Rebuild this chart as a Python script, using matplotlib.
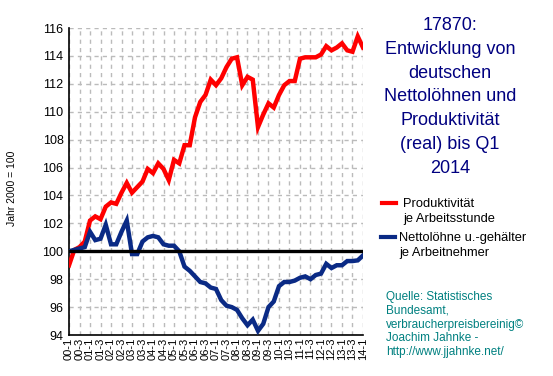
import matplotlib.pyplot as plt

plt.rcParams['font.family'] = ['Liberation Sans', 'DejaVu Sans']

# quarters 2000 Q1 .. 2014 Q1
quarters = [f"{y:02d}-{q}" for y in range(0, 15) for q in (1, 2, 3, 4)][:57]

produktivitaet = [99.0, 100.1, 100.3, 100.7, 102.2, 102.5, 102.3, 103.2, 103.5, 103.4,
                  104.2, 104.9, 104.2, 104.6, 105.0, 105.9, 105.6, 106.3, 105.9, 105.1,
                  106.55, 106.3, 107.6, 107.6, 109.6, 110.7, 111.2, 112.3, 111.9, 112.4,
                  113.2, 113.8, 113.9, 111.9, 112.5, 112.3, 108.9, 109.8, 110.6, 110.3,
                  111.2, 111.9, 112.2, 112.2, 113.8, 113.9, 113.9, 113.9, 114.1, 114.7,
                  114.4, 114.6, 114.9, 114.4, 114.3, 115.4, 114.6]

nettoloehne = [100.0, 100.1, 100.2, 100.3, 101.4, 100.8, 100.9, 101.9, 100.5, 100.5,
               101.4, 102.2, 99.8, 99.8, 100.7, 101.0, 101.1, 101.0, 100.5, 100.4,
               100.4, 100.0, 98.9, 98.6, 98.2, 97.8, 97.7, 97.4, 97.3, 96.5,
               96.1, 96.0, 95.8, 95.2, 94.7, 95.1, 94.3, 94.8, 96.0, 96.4,
               97.5, 97.8, 97.8, 97.9, 98.1, 98.2, 98.0, 98.3, 98.4, 99.1,
               98.8, 99.0, 99.0, 99.3, 99.3, 99.35, 99.7]

title = "17870:\nEntwicklung von\ndeutschen\nNettolöhnen und\nProduktivität\n(real) bis Q1\n2014"
quelle = ("Quelle: Statistisches\nBundesamt,\nverbraucherpreisbereinig©\n"
          "Joachim Jahnke -\nhttp://www.jjahnke.net/")

red = '#ff0000'
blue = '#0a2a85'

fig = plt.figure(figsize=(5.53, 3.76), dpi=100)
ax = fig.add_axes([0.1248, 0.109, 0.5316, 0.8165])

x = list(range(len(quarters)))
ax.plot(x, produktivitaet, color=red, lw=3.2, solid_joinstyle='miter', zorder=3)
ax.plot(x, nettoloehne, color=blue, lw=3.2, solid_joinstyle='miter', zorder=3)
ax.axhline(100, color='black', lw=2.4, zorder=4)

ax.set_xlim(0, 56)
ax.set_ylim(94, 116)
ax.set_yticks(range(94, 117, 2))
ax.set_xticks(x[::2])
ax.set_xticklabels(quarters[::2], rotation=90, fontsize=8)
ax.tick_params(axis='y', labelsize=9, length=0, pad=4)
ax.tick_params(axis='x', length=0, pad=2)
ax.grid(True, color='#bbbbbb', linestyle=(0, (3, 3)), lw=1)
ax.set_axisbelow(True)
for s in ('top', 'right'):
    ax.spines[s].set_visible(False)
ax.spines['left'].set_linewidth(1.2)
ax.spines['bottom'].set_linewidth(1.2)

fig.text(0.022, 0.5, "Jahr 2000 = 100", rotation=90, fontsize=7.5, va='center', ha='center')

fig.text(0.814, 1 - 17 / 376, title, color='#000080', fontsize=13, ha='center', va='top',
         linespacing=1.52)

# legend drawn by hand
fig.add_artist(plt.Line2D([0.691, 0.716], [1 - 203 / 376] * 2, color=red, lw=3))
fig.text(0.729, 1 - 198 / 376, "Produktivität\nje Arbeitsstunde", fontsize=9.3, va='top',
         linespacing=1.38)
fig.add_artist(plt.Line2D([0.689, 0.714], [1 - 237 / 376] * 2, color=blue, lw=3))
fig.text(0.722, 1 - 232 / 376, "Nettolöhne u.-gehälter\nje Arbeitnehmer", fontsize=9.3, va='top',
         linespacing=1.3)

fig.text(0.698, 1 - 291 / 376, quelle, color='#008080', fontsize=8.5, va='top', linespacing=1.2)

fig.savefig('out.png', dpi=100)
